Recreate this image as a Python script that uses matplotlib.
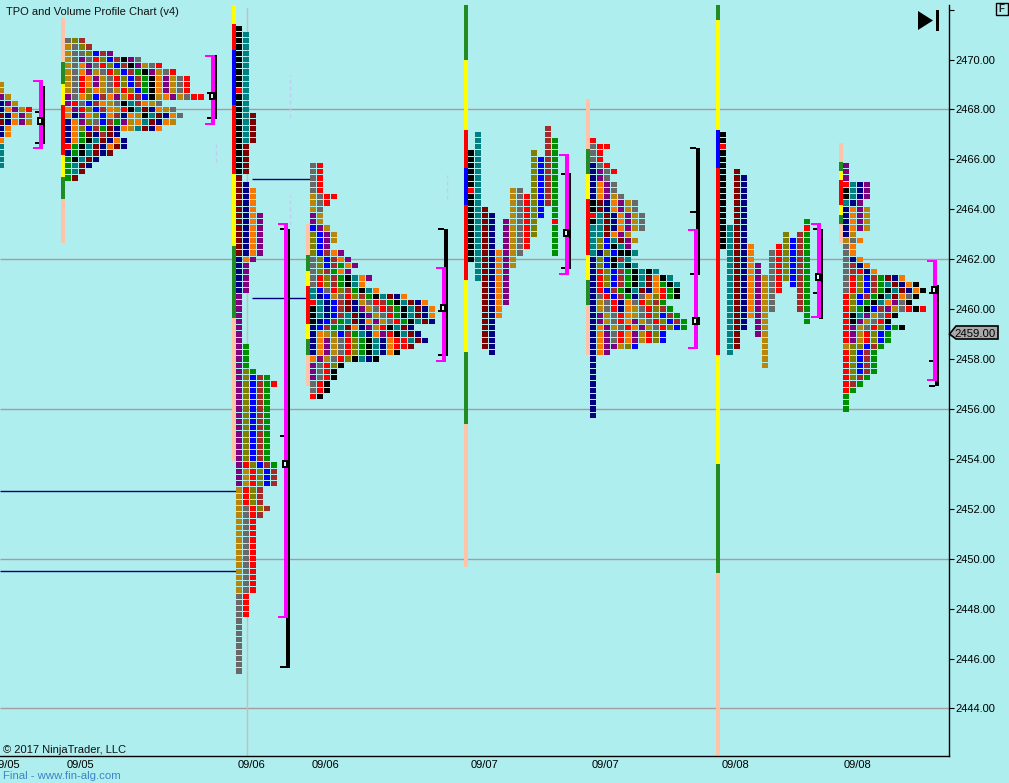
import matplotlib
matplotlib.use("Agg")
import matplotlib.pyplot as plt
from matplotlib.patches import Polygon, Rectangle

plt.rcParams['font.family'] = ['Liberation Sans', 'DejaVu Sans']

BG = "#AFEEEE"

# TPO letter colours
PALETTE = {
    "K": "#000000", "R": "#FF0000", "B": "#0000FF", "N": "#000080",
    "P": "#800080", "T": "#008080", "M": "#800000", "W": "#A52A2A",
    "O": "#F57900", "D": "#696969", "L": "#808000", "G": "#008F00",
    "A": "#B8860B",
}
STRIP_COLORS = {"S": "#FFC3A8", "F": "#228B22", "Y": "#FFFF00", "R": "#FF0000", "B": "#0000FF"}

# price axis
PRICE_TICKS = [2444, 2446, 2448, 2450, 2452, 2454, 2456, 2458, 2460, 2462, 2464, 2466, 2468, 2470, 2472]
GRID_PRICES = [2444, 2450, 2456, 2462, 2468]
LAST_PRICE = 2459.0

# date labels
DATE_LABELS = ["09/05", "09/05", "09/06", "09/06", "09/07", "09/07", "09/08", "09/08"]
DATE_POS = [6.5, 80.7, 251.5, 325.5, 484, 605, 735, 858]

# profiles written row by row from the top price down
P1_TOP = 2469.0
P1_ROWS = ["A", "A", "PA", "NPA", "NOPAR", "MNOPA", "MNOPA", "NO", "NO", "O", "T", "T", "T", "T"]

P2_TOP = 2470.75
P2_ROWS = [
    "DLW", "ADLW", "ADDLBWP", "ADPDRLBWKPD", "ADOPDRLBWKPADR", "ADOPADRLBWGKPADR",
    "ADROPADRLBWGKOPADR", "ADROPADRLBWGKOPADR", "ADRLOADARLBGKOPADR",
    "PDOLBWOPARWBKAOPADRR", "PRDBWOADKTWOAD", "OPRLBWOARKTMNOAD", "ONPOLBOWNOAKTMNOD",
    "NOPLDBWGPAOTMNOA", "NOLBWGMNOATMNO", "NOGMNWMN", "NOGKTMNON", "RGKTMNOMN",
    "NGKTMNM", "GKTMN", "GTMN", "GTM", "GM",
]

P3_TOP = 2471.25
P3_ROWS = (
    ["K"] + ["KT"] * 9 + ["RT"] + ["KT"] * 3 + ["KTM"] * 5 + ["KM"] * 5 + ["M", "MN"]
    + ["MNO"] * 4 + ["MNOP"] * 7 + ["NOP"] + ["NP"] * 5 + ["P"] * 8 + ["PG"] * 4
    + ["PLG", "PLBWG", "PLBWGR"] + ["PLBWG"] * 12 + ["PRLBWG"] + ["PARLBW"] * 3
    + ["ARLW"] * 3 + ["ADRLW", "ADRW"] + ["ADR"] * 12 + ["DR"] * 4 + ["D"] * 9
)

P4_TOP = 2465.75
P4_ROWS = [
    "DR", "DR", "DR", "DR", "DR", "ADRR", "ADR", "AD", "PA", "PA", "BPA", "LBPA", "LBPA", "LBP",
    "LBWOP", "DLBWOP", "DLBWGOP", "DLWGOP", "DRLWGKTOP", "DRLWGKTO", "TBDRLWGKTO",
    "TNBADRLWGKTMNO", "RTNBWMNADRWGKTMNO", "KTNBWMNPADRWGKTMNO", "KTNBWTMNPADRGKTMNO",
    "KNBWGTMNOPADRGKTMN", "NBWGTMONPARKTMN", "NOALBWGTNOPRKTMN", "NOPADRLGKTNORRTMN",
    "NOPADRLGKTNORRM", "NOPADRLGKTNOK", "OPADRLKTNK", "PDRLK", "PDRK", "PDRK", "DRK", "DRK", "RK",
]

P6_TOP = 2466.75
P6_ROWS = (
    ["R", "DRR", "DR", "DR", "NDR", "NPDR", "NPD", "NOPD", "NOPD", "NOPAD", "KMNOPAD", "KMNOPAD",
     "RTMNOPAD", "KTMNOPAD", "TTMNOPAD", "TTMOPA", "TLBTMPA", "TLBKTP", "TNLBKKT", "NLBKWT",
     "NLBKTKT", "NRLBWGKTKT", "NRLBWGKTMOKT", "NRLBWGKTMOGKT", "NRBWGKTMNORGK",
     "NDRBWGNDOLRGK", "NADRNODRLWG", "NADRNOADRLWG", "NPADROADRLBWG", "NPADROPADRLBWG",
     "NOPADROPADRLBG", "NOPDROPARLB", "NOPDROPARLB", "NOPPALB", "NOP"]
    + ["N"] * 10
)

P8_TOP = 2465.75
P8_ROWS = [
    "P", "P", "P", "RTNP", "KTNP", "KTNP", "TNP", "NOPA", "NOPA", "NOPA", "NOPA", "NA", "ADO",
    "DO", "DO", "DNO", "DWNO", "DWRNO", "DRLBWGMNO", "DRLBWGTMNOK", "DRLBWGKTMNOK", "RLBWGKTMODK",
    "RLBGKTOPDK", "RLGKBWPADRKR", "RKTPADRK", "RKPADRK", "RPADRLBGK", "RPARLBG", "RPARLBG",
    "ALLBWG", "RLBWG", "RLBWG", "RLBWG", "RLBWG", "RLWG", "RWG", "RG", "G", "G", "G",
]

# profiles 5 and 7 keep their letters in fixed columns, so they go column by column
COLUMN_LETTERS = "KTMNOPADRLBWG"
P5_HI = [2466.25, 2467.0, 2464.0, 2463.75, 2462.25, 2463.5, 2464.75, 2464.75, 2464.5, 2466.25, 2466.0, 2467.25, 2466.75]
P5_LO = [2462.0, 2461.25, 2458.5, 2458.25, 2459.75, 2460.25, 2461.75, 2462.25, 2462.5, 2463.0, 2463.75, 2464.25, 2462.25]
P5_RED = [(0, 2464.75), (12, 2463.5)]
P7_HI = [2467.0, 2463.25, 2465.5, 2465.25, 2462.5, 2461.75, 2461.25, 2462.25, 2462.5, 2463.0, 2462.75, 2463.0, 2463.5]
P7_LO = [2462.5, 2458.25, 2458.5, 2459.25, 2459.75, 2459.0, 2457.75, 2460.0, 2460.75, 2461.25, 2461.0, 2460.0, 2459.5]
P7_RED = [(0, 2466.5), (12, 2463.25)]

# opening range strips, top price then (colour, bottom price) going down
STRIP_1 = (2471.66, [("S", 2469.90), ("F", 2469.02), ("Y", 2468.18), ("R", 2466.17), ("Y", 2465.29), ("F", 2464.41), ("S", 2462.65)])
STRIP_2 = (2472.18, [("Y", 2471.42), ("R", 2470.38), ("B", 2468.18), ("R", 2465.41), ("Y", 2462.53), ("F", 2459.64), ("S", 2453.91)])
STRIP_3 = (2463.41, [("S", 2462.17), ("F", 2461.53), ("Y", 2460.93), ("R", 2459.40), ("Y", 2458.80), ("F", 2458.16), ("S", 2456.92)])
STRIP_4 = (2472.18, [("F", 2469.98), ("Y", 2467.18), ("R", 2465.65), ("B", 2464.17), ("R", 2461.17), ("Y", 2458.28), ("F", 2455.40), ("S", 2449.67)])
STRIP_5 = (2468.42, [("S", 2466.41), ("F", 2465.41), ("Y", 2464.41), ("R", 2462.17), ("Y", 2461.17), ("F", 2460.16), ("S", 2458.16)])
STRIP_6 = (2472.18, [("F", 2471.58), ("Y", 2467.18), ("B", 2465.65), ("R", 2458.16), ("Y", 2453.79), ("F", 2449.43), ("S", 2442.14)])
STRIP_7 = (2466.65, [("S", 2465.89), ("F", 2465.53), ("Y", 2465.17), ("R", 2464.17), ("Y", 2463.77), ("F", 2463.41), ("S", 2462.65)])

# value area (magenta), range (black), point of control box
VA_HI = [2469.18, 2470.17, 2463.45, 2461.67, 2466.21, 2463.20, 2463.44, 2461.97]
VA_LO = [2466.40, 2467.39, 2447.64, 2457.89, 2461.37, 2458.40, 2459.64, 2457.13]
RANGE_HI = [2468.94, 2470.17, 2463.21, 2463.21, 2465.44, 2466.44, 2463.20, 2460.95]
RANGE_LO = [2466.61, 2467.63, 2445.63, 2458.12, 2461.60, 2461.37, 2459.60, 2456.90]
POC = [2467.54, 2468.54, 2453.79, 2460.05, 2463.05, 2459.52, 2461.29, 2460.77]
RANGE_TICKS = [
    [2467.90, 2466.65],
    [2468.67, 2467.66],
    [2463.21, 2454.93, 2445.67],
    [2463.21, 2459.92, 2458.17],
    [2465.41, 2461.65],
    [2466.44, 2463.89, 2461.42],
    [2463.20, 2460.66],
    [2460.66, 2457.93, 2456.93],
]

# naked levels: price, from, to
LEVEL_PRICE = [2465.23, 2460.46, 2452.73, 2449.50]
LEVEL_START = [252, 252, 0, 0]
LEVEL_END = [310, 310, 236, 236]

# faint dashed marks
FAINT_X = [289, 289, 215, 446]
FAINT_HI = [2469.38, 2464.57, 2466.61, 2465.37]
FAINT_LO = [2467.66, 2463.37, 2465.89, 2464.41]

# layout, in pixels of the 1009x783 picture
WIDTH, HEIGHT = 1009, 783
AXIS_X, AXIS_Y = 948.5, 756.3
COL_STEP = 7
COL_W = 6
CELL_H = 0.21
VA_X = [39, 211, 284, 442, 565, 694, 817, 933]


def py(y):
    # pixel row to price
    return 2470 - (y - 59.5) / 24.96


fig = plt.figure(figsize=(WIDTH / 100, HEIGHT / 100), dpi=100, facecolor=BG)
ax = fig.add_axes([0, (HEIGHT - AXIS_Y) / HEIGHT, AXIS_X / WIDTH, AXIS_Y / HEIGHT])
ax.set_facecolor(BG)
ax.set_xlim(0, AXIS_X)
ax.set_ylim(py(AXIS_Y), py(0))


def block(x0, x1, lo, hi, color, z):
    ax.bar(x0, hi - lo, width=x1 - x0, bottom=lo, align="edge", color=color,
           linewidth=0, antialiased=False, zorder=z)


def draw_cells(cells):
    # cells is a list of (left, price, letter)
    ax.bar([c[0] for c in cells], CELL_H, width=COL_W, bottom=[c[1] - CELL_H / 2 for c in cells],
           align="edge", color=[PALETTE[c[2]] for c in cells], linewidth=0,
           antialiased=False, zorder=3)


def draw_rows(left, top, rows):
    cells = []
    for i, row in enumerate(rows):
        for j, letter in enumerate(row):
            cells.append((left + j * COL_STEP, top - i * 0.25, letter))
    draw_cells(cells)


def draw_columns(left, hi, lo, red):
    cells = []
    for j, letter in enumerate(COLUMN_LETTERS):
        price = hi[j]
        while price >= lo[j]:
            cells.append((left + j * COL_STEP, price, "R" if (j, price) in red else letter))
            price -= 0.25
    draw_cells(cells)


def draw_strip(x0, strip):
    top = strip[0]
    for code, bottom in strip[1]:
        block(x0, x0 + 4, bottom, top, STRIP_COLORS[code], 2.5)
        top = bottom


# background lines
for price in GRID_PRICES:
    ax.plot([0, AXIS_X], [price, price], color="#A69C9F", lw=1, zorder=1, solid_capstyle="butt")
ax.plot([246.5, 246.5], [py(AXIS_Y), py(8)], color="#C6BDBD", lw=1, zorder=1)
for i in range(len(FAINT_X)):
    ax.plot([FAINT_X[i] + 0.5] * 2, [FAINT_LO[i], FAINT_HI[i]], color="#BFCDF2", lw=1,
            ls=(0, (3, 2)), zorder=1)
for i in range(len(LEVEL_PRICE)):
    ax.plot([LEVEL_START[i], LEVEL_END[i]], [LEVEL_PRICE[i]] * 2, color="#000080", lw=1,
            zorder=2, solid_capstyle="butt")

# strips
draw_strip(61, STRIP_1)
draw_strip(232, STRIP_2)
draw_strip(306, STRIP_3)
draw_strip(464, STRIP_4)
draw_strip(586, STRIP_5)
draw_strip(716, STRIP_6)
draw_strip(839, STRIP_7)

# profiles
draw_rows(-2, P1_TOP, P1_ROWS)
draw_rows(65, P2_TOP, P2_ROWS)
draw_rows(236, P3_TOP, P3_ROWS)
draw_rows(310, P4_TOP, P4_ROWS)
draw_columns(468, P5_HI, P5_LO, P5_RED)
draw_rows(590, P6_TOP, P6_ROWS)
draw_columns(720, P7_HI, P7_LO, P7_RED)
draw_rows(843, P8_TOP, P8_ROWS)

# brackets
TICK_H = 0.08
for i, x0 in enumerate(VA_X):
    block(x0 + 2, x0 + 6, RANGE_LO[i], RANGE_HI[i], "black", 4)
    for t in RANGE_TICKS[i]:
        block(x0 - 4, x0 + 2, t - TICK_H / 2, t + TICK_H / 2, "black", 4)
    block(x0, x0 + 4, VA_LO[i], VA_HI[i], "#FF00FF", 5)
    block(x0 - 6, x0, VA_HI[i] - TICK_H, VA_HI[i], "#FF00FF", 5)
    block(x0 - 6, x0, VA_LO[i], VA_LO[i] + TICK_H, "#FF00FF", 5)
    # point of control box
    block(x0 - 2, x0 + 6, POC[i] - 0.16, POC[i] + 0.16, "black", 6)
    block(x0, x0 + 2, POC[i] - 0.08, POC[i] + 0.08, "#D8F4F4", 7)

# axes
for side in ["top", "left"]:
    ax.spines[side].set_visible(False)
ax.spines["right"].set_bounds(py(AXIS_Y), py(5))
ax.spines["right"].set_linewidth(1)
ax.spines["bottom"].set_linewidth(1)
ax.yaxis.tick_right()
ax.set_yticks(PRICE_TICKS)
ax.set_yticklabels(["%.2f" % p if p < 2472 else "" for p in PRICE_TICKS])
ax.tick_params(axis="y", length=3.8, width=0.8, pad=1.4, labelsize=8)
ax.set_xticks(DATE_POS)
ax.set_xticklabels(DATE_LABELS)
ax.tick_params(axis="x", length=0, pad=2.5, labelsize=8)

# text
fig.text(6 / WIDTH, 1 - 12 / HEIGHT, "TPO and Volume Profile Chart (v4)", fontsize=8, va="center", color="#111111")
fig.text(3 / WIDTH, 1 - 750 / HEIGHT, "© 2017 NinjaTrader, LLC", fontsize=8, va="center", color="#111111")
fig.text(3 / WIDTH, 1 - 776 / HEIGHT, "Final - www.fin-alg.com", fontsize=8.2, va="center", color="#3C85C6")

# last price tag
tag_hi, tag_lo = py(326), py(339)
ax.add_patch(Polygon([(949.5, LAST_PRICE), (956, tag_hi), (998, tag_hi), (998, tag_lo), (956, tag_lo)],
                     closed=True, facecolor="#A9A9A9", edgecolor="black", lw=1.2, clip_on=False, zorder=8))
ax.text(975, LAST_PRICE, "%.2f" % LAST_PRICE, fontsize=8.2, ha="center", va="center", clip_on=False, zorder=9)

# skip to end icon
ax.add_patch(Polygon([(918, py(11)), (933, py(20.5)), (918, py(30))], closed=True, facecolor="black",
                     edgecolor="none", zorder=8))
ax.add_patch(Rectangle((935.5, py(30.5)), 3, py(10) - py(30.5), facecolor="black", edgecolor="none", zorder=8))

# F button
fig.patches.append(Rectangle((995.5 / WIDTH, 1 - 14.5 / HEIGHT), 12 / WIDTH, 11.5 / HEIGHT, transform=fig.transFigure,
                             facecolor=BG, edgecolor="black", lw=1, figure=fig))
fig.text(1001.5 / WIDTH, 1 - 9.5 / HEIGHT, "F", fontsize=7, fontweight="bold", ha="center", va="center", color="#222222")

fig.savefig("out.png", dpi=100, facecolor=BG)
